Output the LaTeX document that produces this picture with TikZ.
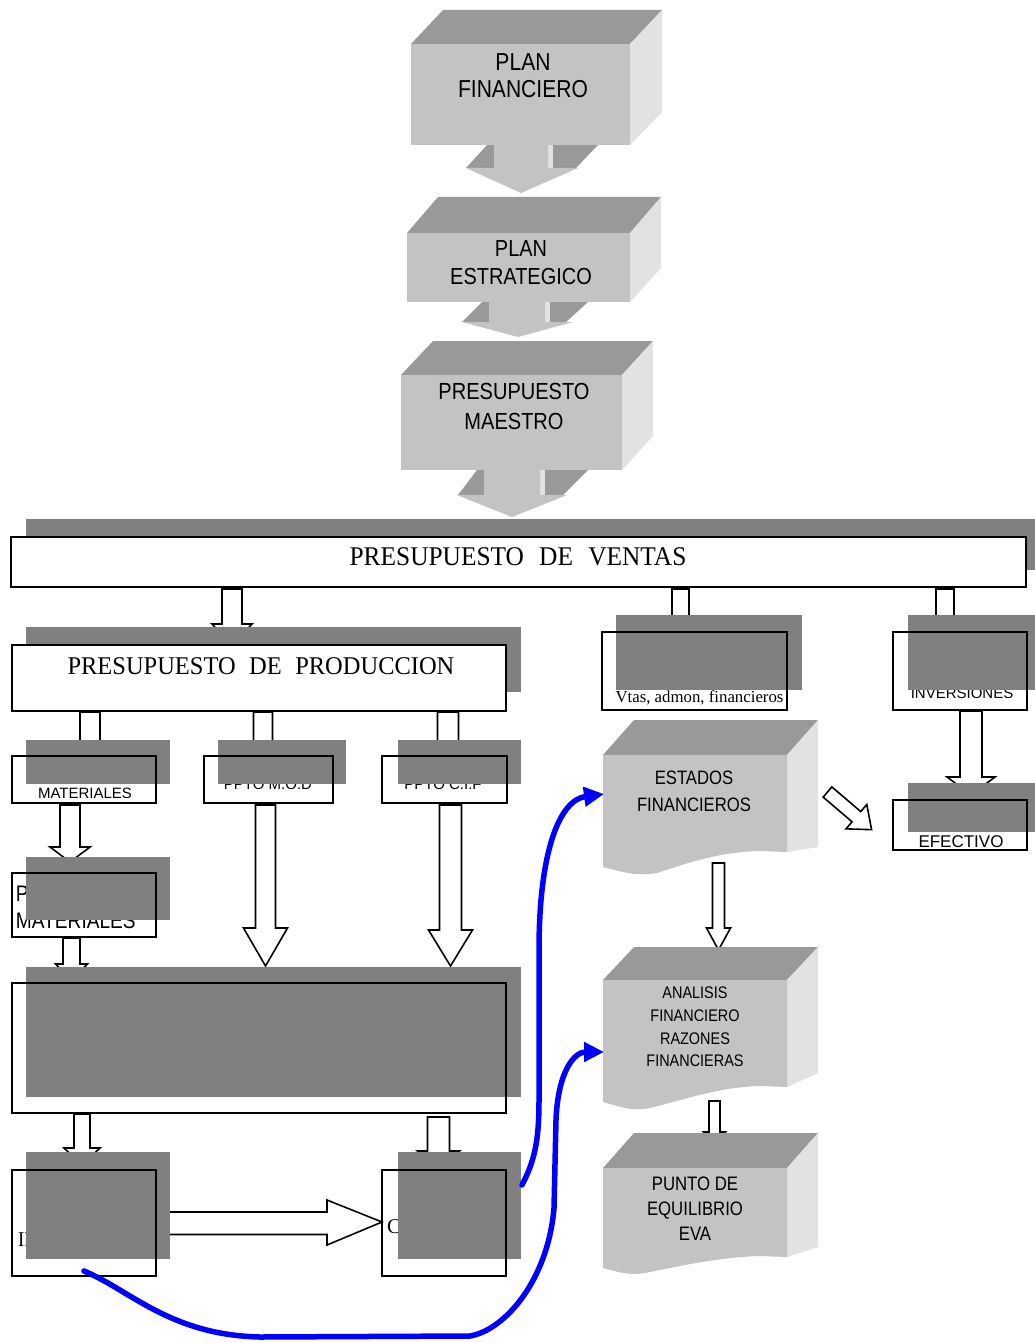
\documentclass[tikz,border=0pt]{standalone}
\usepackage{fontspec}
\setmainfont{Liberation Serif}
\setsansfont{Liberation Sans}
\usetikzlibrary{arrows.meta,fit}
\definecolor{frontc}{HTML}{C3C3C3}
\definecolor{topc}{HTML}{999999}
\definecolor{sidec}{HTML}{E2E2E2}
\definecolor{grayov}{HTML}{808080}
\definecolor{bluec}{HTML}{0000FF}
\newcommand\cnd[1]{\scalebox{0.86}[1]{#1}}
\newcommand\sz[2]{\fontsize{#1}{#2}\selectfont}
% open block arrow pointing down: cx, ytop, yhead, ytip, stem half width, head half width
\newcommand\dnarrow[6]{\draw[openarrow] ({#1-#5},#2) -- ({#1+#5},#2) -- ({#1+#5},#3) -- ({#1+#6},#3) -- (#1,#4) -- ({#1-#6},#3) -- ({#1-#5},#3) -- cycle;}
\newcommand\rbox[6][]{\node[fit={(#3,#4) (#5,#6)}, inner sep=0pt, outer sep=0pt, #1] (#2) {};}
\begin{document}
\begin{tikzpicture}[x=1pt,y=-1pt,
  openarrow/.style={draw=black,fill=white,line width=1.6pt,line join=miter},
  wfill/.style={fill=white},
  bord/.style={draw=black,line width=2.4pt},
  wbox/.style={draw=black,fill=white,line width=2.4pt},
  ovl/.style={fill=grayov},
  blueline/.style={draw=bluec,line width=5.5pt,line cap=round,line join=round,-{Triangle[length=20pt,width=19pt]}},
  lbl/.style={inner sep=0pt, outer sep=0pt}]
\fill[white] (0,0) rectangle (1035,1343);
\useasboundingbox (0,0) rectangle (1035,1343);

% ---------- PLAN FINANCIERO ----------
\fill[topc] (411,44) -- (630,44) -- (662,10) -- (443,10) -- cycle;
\fill[sidec] (630,44) -- (662,10) -- (662,112) -- (630,145) -- cycle;
\fill[topc] (487,145) -- (494,145) -- (494,168) -- (466,168) -- cycle;
\fill[topc] (548,145) -- (598,145) -- (576,168) -- (548,168) -- cycle;
\fill[sidec] (548,145) rectangle (553,168);
\fill[frontc] (494,144) -- (548,144) -- (548,168) -- (578,168) -- (521,193) -- (466,168) -- (494,168) -- cycle;
\rbox[fill=frontc]{pf}{411}{44}{630}{145}
\node[lbl, align=center, font=\sffamily\sz{24.5}{27}] (pfT) at (523,75.5) {\cnd{PLAN}\\\cnd{FINANCIERO}};

% ---------- PLAN ESTRATEGICO ----------
\fill[topc] (407,233) -- (630,233) -- (661,197) -- (438,197) -- cycle;
\fill[sidec] (630,233) -- (661,197) -- (661,268) -- (630,302) -- cycle;
\fill[topc] (482,302) -- (489,302) -- (489,322) -- (462,322) -- cycle;
\fill[topc] (545,302) -- (588,302) -- (566,322) -- (545,322) -- cycle;
\fill[sidec] (545,302) rectangle (550,322);
\fill[frontc] (489,301) -- (545,301) -- (545,322) -- (573,322) -- (518,337) -- (462,322) -- (489,322) -- cycle;
\rbox[fill=frontc]{pe}{407}{233}{630}{302}
\node[lbl, align=center, font=\sffamily\sz{23.2}{28}] (peT) at (521,263) {\cnd{PLAN}\\\cnd{ESTRATEGICO}};

% ---------- PRESUPUESTO MAESTRO ----------
\fill[topc] (401,375) -- (622,375) -- (653,341) -- (433,341) -- cycle;
\fill[sidec] (622,375) -- (653,341) -- (653,436) -- (622,470) -- cycle;
\fill[topc] (477,470) -- (484,470) -- (484,495) -- (458,495) -- cycle;
\fill[topc] (540,470) -- (588,470) -- (563,495) -- (540,495) -- cycle;
\fill[sidec] (540,470) rectangle (545,495);
\fill[frontc] (484,469) -- (540,469) -- (540,495) -- (567,495) -- (512,517) -- (457,495) -- (484,495) -- cycle;
\rbox[fill=frontc]{pm}{401}{375}{622}{470}
\node[lbl, align=center, font=\sffamily\sz{23.3}{30}] (pmT) at (514,406) {\cnd{PRESUPUESTO}\\\cnd{MAESTRO}};

% ---------- PRESUPUESTO DE VENTAS ----------
\rbox[ovl]{ventasS}{26}{519}{1035}{570}
\rbox[wbox]{ventas}{11}{537}{1026}{587}
\node[lbl, anchor=base, font=\rmfamily\sz{27}{27}] (ventasT) at (518,565) {\scalebox{0.94}[1]{PRESUPUESTO\hspace{0.6em}DE\hspace{0.6em}VENTAS}};

\dnarrow{232}{589}{624}{645}{10}{20}
\dnarrow{680.5}{589}{630}{650}{8.5}{18}
\dnarrow{945}{589}{630}{650}{9}{18}

% ---------- PRESUPUESTO DE PRODUCCION ----------
\rbox[ovl]{prodS}{26}{627}{521}{692}
\rbox[wbox]{prod}{12}{645}{506}{711}
\node[lbl, anchor=base, font=\rmfamily\sz{25.5}{25.5}] (prodT) at (261,674) {\scalebox{0.96}[1]{PRESUPUESTO\hspace{0.55em}DE\hspace{0.55em}PRODUCCION}};

\dnarrow{90}{712}{745}{760}{10}{20}
\dnarrow{263}{712}{745}{760}{9.5}{20}
\dnarrow{448}{712}{745}{760}{10.5}{20}

% ---------- small boxes (fills and texts) ----------
\rbox[wfill]{mat}{12}{756}{156}{803}
\node[lbl, anchor=base, font=\sffamily\sz{15}{15}] (matT) at (85,798) {MATERIALES};
\rbox[wfill]{mod}{204}{756}{333}{803}
\node[lbl, anchor=base, font=\sffamily\sz{15}{15}] (modT) at (268,789) {PPTO M.O.D};
\rbox[wfill]{cif}{382}{756}{507}{803}
\node[lbl, anchor=base, font=\sffamily\sz{15}{15}] (cifT) at (443,789) {PPTO C.I.F};
\rbox[wfill]{vtas}{602}{632}{787}{710}
\node[lbl, anchor=base, font=\rmfamily\sz{16.8}{16.8}] (vtasT) at (699.5,702) {Vtas, admon, financieros};
\rbox[wfill]{inv}{893}{632}{1027}{710}
\node[lbl, anchor=base, font=\sffamily\sz{15}{15}] (invT) at (962,698) {INVERSIONES};

\dnarrow{70}{805}{847}{862}{10}{20}
\dnarrow{265.5}{805}{928}{966}{10}{22}
\dnarrow{450.5}{805}{930}{966}{11}{22}
\dnarrow{971}{711}{777}{795}{11}{24}

\rbox[wfill]{pmat}{12}{873}{156}{937}
\node[lbl, anchor=base west, font=\sffamily\sz{22.5}{22.5}] (pmatT1) at (16,901) {\scalebox{0.85}[1]{P}};
\node[lbl, anchor=base west, font=\sffamily\sz{22.5}{22.5}] (pmatT2) at (16,928) {\scalebox{0.85}[1]{MATERIALES}};
\rbox[wfill]{efe}{893}{800}{1027}{850}
\node[lbl, anchor=base, font=\sffamily\sz{17}{17}] (efeT) at (961,847) {EFECTIVO};
\rbox[wfill]{big}{12}{983}{506}{1113}

\dnarrow{71.5}{938}{964}{980}{8.5}{16}
\dnarrow{82}{1114}{1148}{1165}{8}{18}
\dnarrow{438.5}{1117}{1151}{1168}{11}{21}

\rbox[wfill]{bl}{12}{1170}{156}{1276}
\node[lbl, anchor=base west, font=\rmfamily\sz{21}{21}] (blT) at (18,1246) {\scalebox{0.9}[1]{II}};
\rbox[wfill]{br}{382}{1170}{506}{1276}
\node[lbl, anchor=base west, font=\rmfamily\sz{21}{21}] (brT) at (387,1233) {C};
\draw[openarrow] (160,1212) -- (327,1212) -- (327,1200) -- (br.west |- 0,1222) -- (327,1245) -- (327,1234.5) -- (160,1234.5) -- cycle;

% ---------- gray overlays ----------
\rbox[ovl]{matS}{26}{740}{170}{784}
\rbox[ovl]{modS}{218}{740}{346}{784}
\rbox[ovl]{cifS}{398}{740}{521}{784}
\rbox[ovl]{vtasS}{616}{615}{802}{690}
\rbox[ovl]{invS}{908}{615}{1035}{690}
\rbox[ovl]{pmatS}{26}{857}{170}{920}
\rbox[ovl]{efeS}{908}{783}{1035}{832}
\rbox[ovl]{bigS}{26}{967}{521}{1097}
\rbox[ovl]{blS}{26}{1152}{170}{1259}
\rbox[ovl]{brS}{398}{1152}{521}{1259}

% ---------- borders ----------
\foreach \b in {mat,mod,cif,vtas,inv,pmat,efe,big,bl,br}
  \draw[bord] (\b.north west) rectangle (\b.south east);

% ---------- ESTADOS FINANCIEROS ----------
\fill[topc] (603,755) -- (787,755) -- (818,720) -- (634,720) -- cycle;
\fill[sidec] (787,755) -- (818,720) -- (818,847) -- (787,852) -- cycle;
\fill[frontc] (603,755) -- (787,755) -- (787,852) -- (760,851) .. controls (720,852) and (690,862) .. (657,873) .. controls (635,877) and (615,870) .. (603,867) -- cycle;
\node[lbl, align=center, font=\sffamily\sz{19.4}{27}] (estT) at (694,791.5) {\cnd{ESTADOS}\\\cnd{FINANCIEROS}};

\dnarrow{718.5}{863}{928}{950}{6}{12}

% ---------- ANALISIS ----------
\fill[topc] (603,980) -- (787,980) -- (818,947) -- (634,947) -- cycle;
\fill[sidec] (787,980) -- (818,947) -- (818,1073) -- (787,1087) -- cycle;
\fill[frontc] (603,980) -- (787,980) -- (787,1087) -- (760,1086) .. controls (720,1087) and (690,1098) .. (650,1108) .. controls (630,1112) and (615,1105) .. (603,1102) -- cycle;
\node[lbl, align=center, font=\sffamily\sz{16.8}{22.7}] (anT) at (695,1027) {\cnd{ANALISIS}\\\cnd{FINANCIERO}\\\cnd{RAZONES}\\\cnd{FINANCIERAS}};

\dnarrow{714.5}{1101}{1132}{1143}{5.5}{11}

% ---------- PUNTO DE EQUILIBRIO ----------
\fill[topc] (603,1168) -- (787,1168) -- (818,1133) -- (634,1133) -- cycle;
\fill[sidec] (787,1168) -- (818,1133) -- (818,1247) -- (787,1257) -- cycle;
\fill[frontc] (603,1168) -- (787,1168) -- (787,1257) -- (760,1256) .. controls (720,1257) and (680,1266) .. (645,1273) .. controls (628,1276) and (615,1271) .. (603,1268) -- cycle;
\node[lbl, align=center, font=\sffamily\sz{19.5}{25}] (puT) at (695,1209) {\cnd{PUNTO DE}\\\cnd{EQUILIBRIO}\\\cnd{EVA}};

% ---------- diagonal arrow to EFECTIVO ----------
\begin{scope}[shift={(827.5,792)}, rotate=-40.5]
  \draw[openarrow] (0,-6.7) -- (38,-6.7) -- (38,-16) -- (58,0) -- (38,16) -- (38,6.7) -- (0,6.7) -- cycle;
\end{scope}

% ---------- blue connectors ----------
\coordinate (c1s) at (522,1185);
\coordinate (c1e) at (604,794);
\coordinate (c2s) at (84,1271);
\coordinate (c2e) at (604,1052);
\draw[blueline] (c1s) .. controls (535,1160) and (539,1140) .. (539,1100) -- (539,950) .. controls (539,850) and (560,800) .. (c1e);
\draw[blueline] (c2s) .. controls (130,1290) and (170,1335) .. (260,1337) -- (470,1336) .. controls (505,1330) and (548,1280) .. (554,1208) -- (556,1120) .. controls (558,1070) and (575,1052) .. (c2e);
\end{tikzpicture}
\end{document}
